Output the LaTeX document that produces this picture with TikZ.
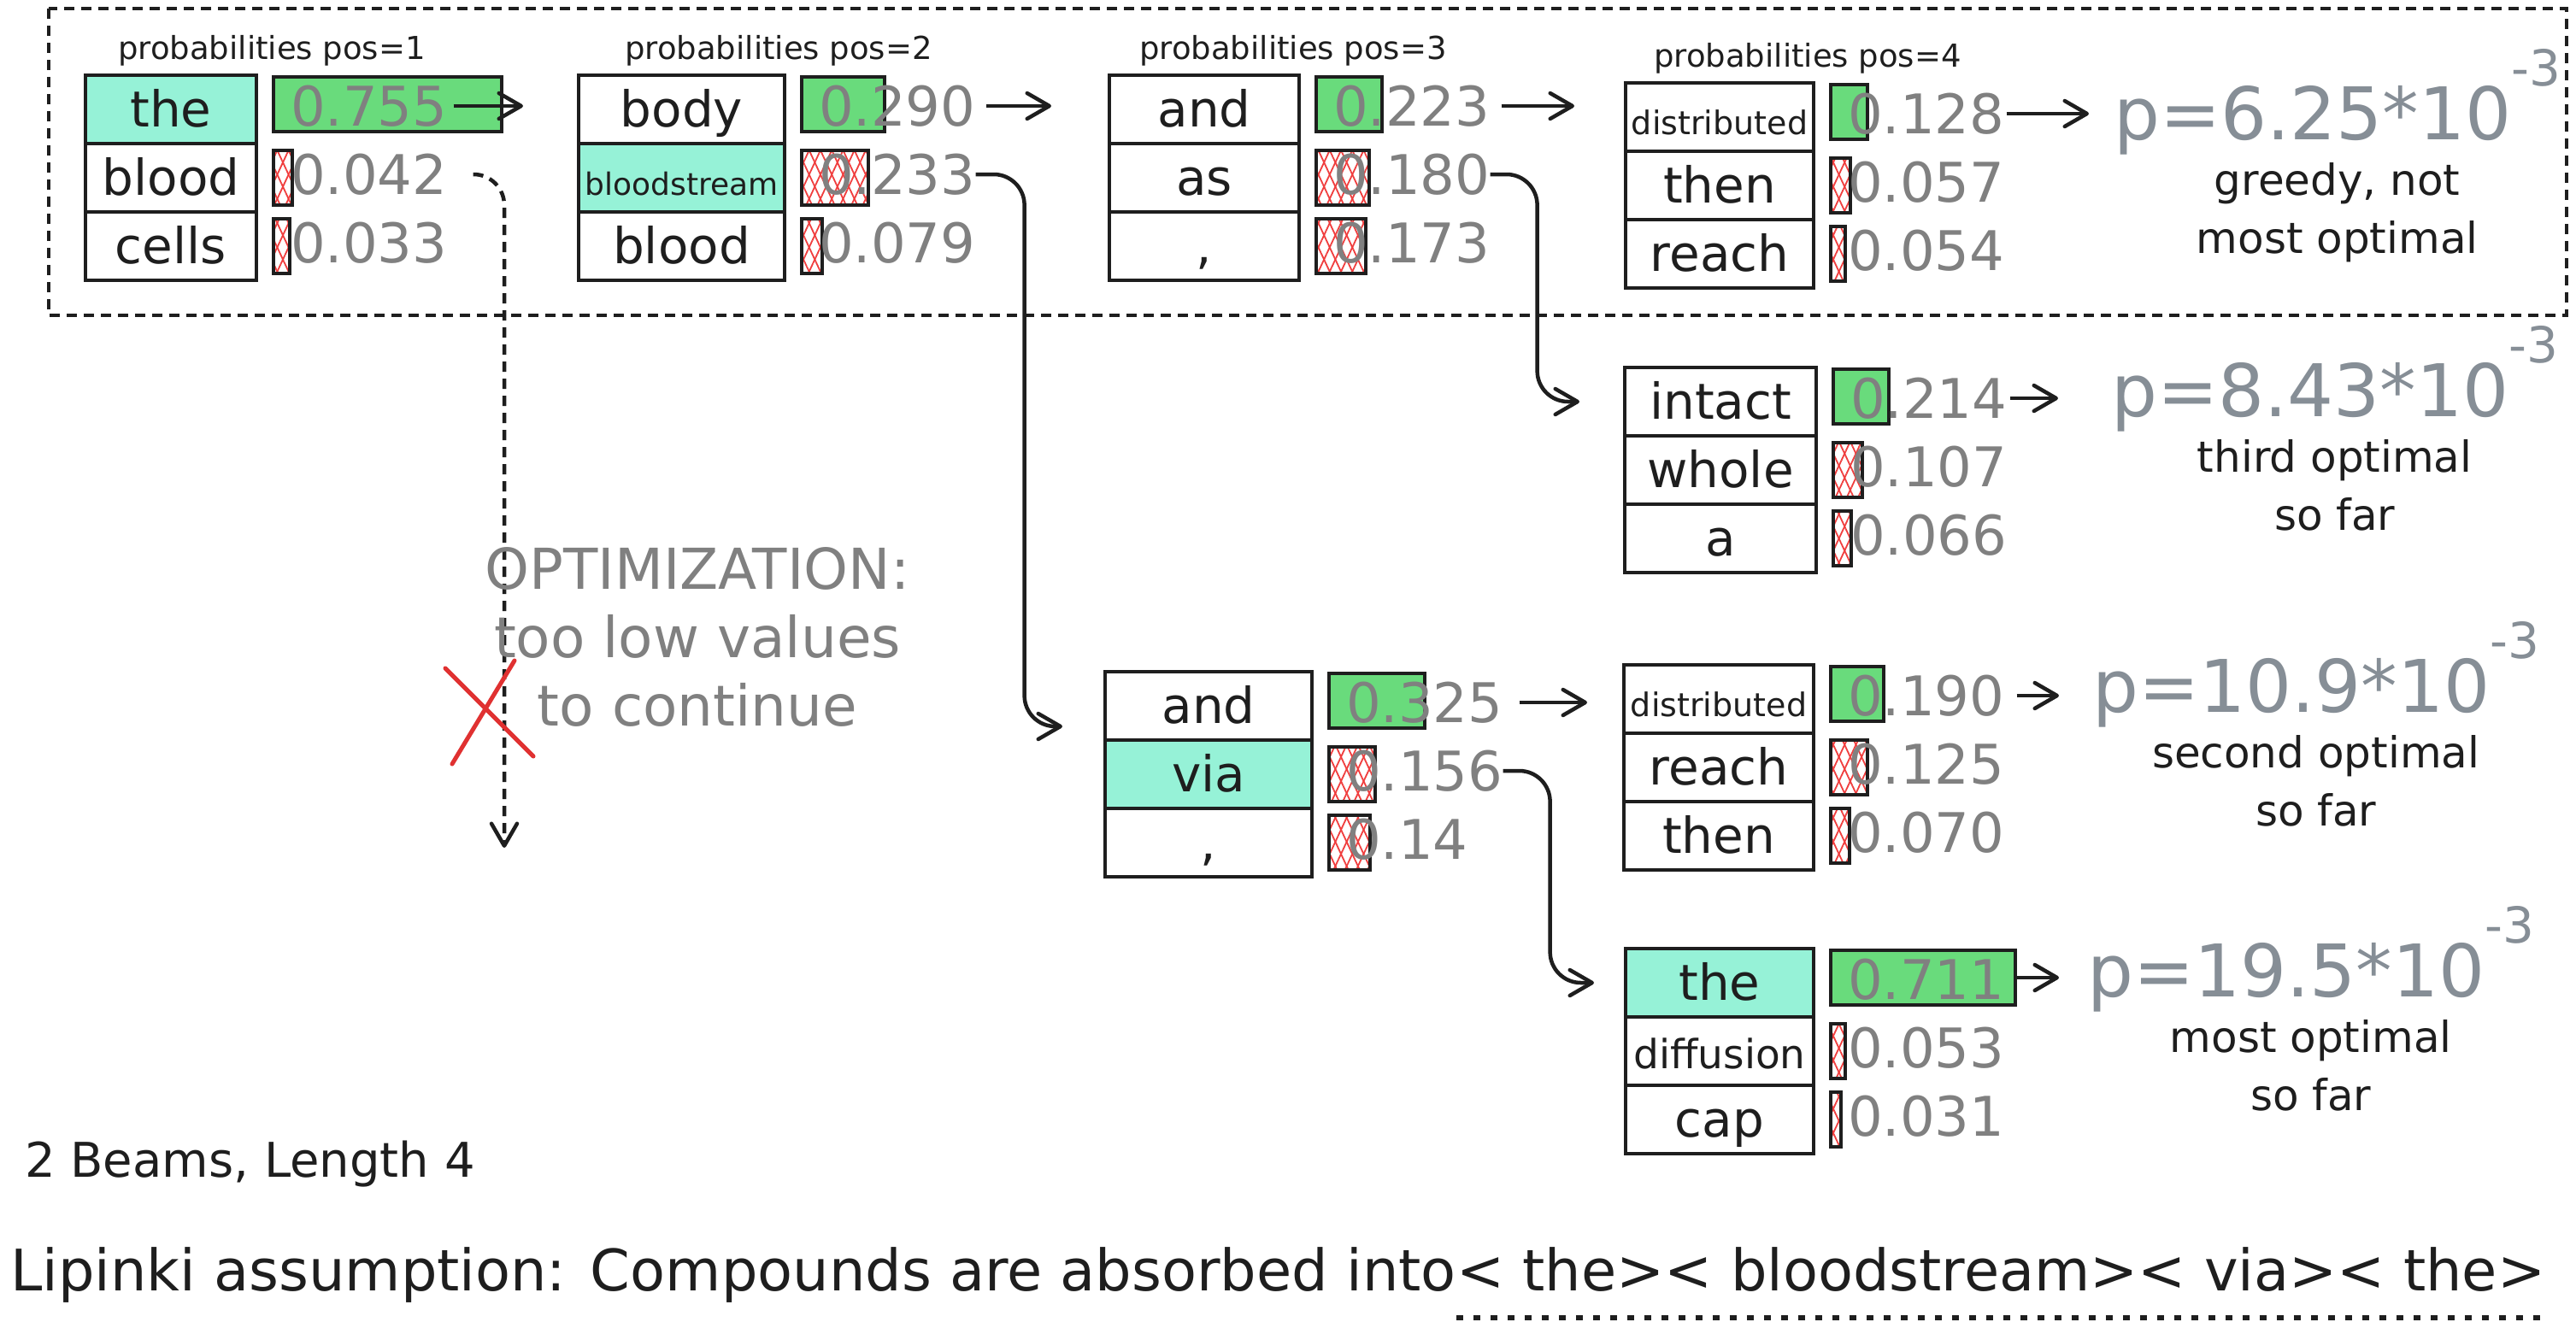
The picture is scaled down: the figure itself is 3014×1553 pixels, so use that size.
\documentclass[tikz,border=0pt]{standalone}
\usepackage{fontspec}
\setmainfont{DejaVu Sans}
\usepackage{xcolor}
\usetikzlibrary{arrows.meta, positioning, patterns.meta}

\definecolor{inkBlack}{HTML}{1E1E1E}
\definecolor{wordTeal}{HTML}{96F2D7}
\definecolor{barGreen}{HTML}{69DB7C}
\definecolor{hatchRed}{HTML}{F03E3E}
\definecolor{valGrey}{HTML}{808080}
\definecolor{pGrey}{HTML}{868E96}
\definecolor{crossRed}{HTML}{E03131}

\newcommand{\tenexp}{\raisebox{63pt}{\fontsize{58}{60}\selectfont -3}}

\tikzset{
  wordbox/.style={draw=inkBlack, line width=4.5pt, minimum width=#1, minimum height=80pt,
    inner sep=0pt, outer sep=0pt, text=inkBlack, text height=42pt, text depth=2pt,
    font=\fontsize{58}{60}\selectfont},
  barbox/.style={draw=inkBlack, line width=4pt, minimum width=#1, minimum height=64pt,
    inner sep=0pt, outer sep=0pt},
  hibar/.style={barbox=#1, fill=barGreen, yshift=6pt},
  lowbar/.style={barbox=#1,
    preaction={pattern={Lines[angle=65, distance=12pt, line width=1.8pt]}, pattern color=hatchRed},
    pattern={Lines[angle=-65, distance=12pt, line width=1.8pt]}, pattern color=hatchRed},
  valtext/.style={text=valGrey, inner sep=0pt, yshift=4pt, font=\fontsize{64}{66}\selectfont},
  problabel/.style={text=inkBlack, inner sep=0pt, font=\fontsize{37}{40}\selectfont},
  pvalue/.style={text=pGrey, inner sep=0pt, anchor=base west, font=\fontsize{85}{90}\selectfont},
  pnote/.style={align=center, text=inkBlack, inner sep=0pt, font=\fontsize{50}{68}\selectfont},
  sentence/.style={text=inkBlack, inner sep=0pt, anchor=base west, font=\fontsize{67}{70}\selectfont},
  nextarrow/.style={->, draw=inkBlack, line width=4.5pt},
  steparrow/.style={->, draw=inkBlack, line width=4.5pt, rounded corners=36pt},
  dashline/.style={draw=inkBlack, line width=4.5pt, dash pattern=on 12pt off 8pt},
  dotline/.style={draw=inkBlack, line width=6pt, dash pattern=on 8pt off 12pt}
}

\begin{document}
\begin{tikzpicture}[>={Straight Barb[length=26pt, width=30pt, round]}, x=1pt, y=1pt]

\fill[white] (0,0) rectangle (3014,-1553);
\useasboundingbox (0,0) rectangle (3014,-1553);

% Greedy frame
\draw[dashline] (57,-10) rectangle (3003,-369);

% Position 1
\node[wordbox=200pt, fill=wordTeal, anchor=north west] (w11) at (100,-88) {the};
\node[wordbox=200pt, below=0pt of w11] (w12) {blood};
\node[wordbox=200pt, below=0pt of w12] (w13) {cells};
\node[hibar=267pt, right=20pt of w11] (b11) {};
\node[lowbar=22pt, right=20pt of w12] (b12) {};
\node[lowbar=19pt, right=20pt of w13] (b13) {};
\node[valtext, right=40pt of w11] (v11) {0.755};
\node[valtext, right=40pt of w12] (v12) {0.042};
\node[valtext, right=40pt of w13] (v13) {0.033};
\node[problabel, above right=11pt and 38pt of w11.north west] (l1) {probabilities pos=1};

% Position 2
\node[wordbox=241pt, anchor=north west] (w21) at (677,-88) {body};
\node[wordbox=241pt, fill=wordTeal, font=\fontsize{36}{40}\selectfont, below=0pt of w21] (w22) {bloodstream};
\node[wordbox=241pt, below=0pt of w22] (w23) {blood};
\node[hibar=97pt, right=20pt of w21] (b21) {};
\node[lowbar=78pt, right=20pt of w22] (b22) {};
\node[lowbar=24pt, right=20pt of w23] (b23) {};
\node[valtext, right=40pt of w21] (v21) {0.290};
\node[valtext, right=40pt of w22] (v22) {0.233};
\node[valtext, right=40pt of w23] (v23) {0.079};
\node[problabel, above right=11pt and 54pt of w21.north west] (l2) {probabilities pos=2};

% Position 3
\node[wordbox=222pt, anchor=north west] (w31) at (1298,-88) {and};
\node[wordbox=222pt, below=0pt of w31] (w32) {as};
\node[wordbox=222pt, below=0pt of w32] (w33) {,};
\node[hibar=77pt, right=20pt of w31] (b31) {};
\node[lowbar=62pt, right=20pt of w32] (b32) {};
\node[lowbar=58pt, right=20pt of w33] (b33) {};
\node[valtext, right=40pt of w31] (v31) {0.223};
\node[valtext, right=40pt of w32] (v32) {0.180};
\node[valtext, right=40pt of w33] (v33) {0.173};
\node[problabel, above right=11pt and 35pt of w31.north west] (l3) {probabilities pos=3};

% Position 4, greedy beam
\node[wordbox=220pt, font=\fontsize{38}{40}\selectfont, anchor=north west] (w41) at (1902,-97) {distributed};
\node[wordbox=220pt, below=0pt of w41] (w42) {then};
\node[wordbox=220pt, below=0pt of w42] (w43) {reach};
\node[hibar=43pt, right=20pt of w41] (b41) {};
\node[lowbar=23pt, right=20pt of w42] (b42) {};
\node[lowbar=17pt, right=20pt of w43] (b43) {};
\node[valtext, right=40pt of w41] (v41) {0.128};
\node[valtext, right=40pt of w42] (v42) {0.057};
\node[valtext, right=40pt of w43] (v43) {0.054};
\node[problabel, above right=11pt and 33pt of w41.north west] (l4) {probabilities pos=4};

% Position 4, after "as"
\node[wordbox=224pt, anchor=north west] (w51) at (1901,-430) {intact};
\node[wordbox=224pt, below=0pt of w51] (w52) {whole};
\node[wordbox=224pt, below=0pt of w52] (w53) {a};
\node[hibar=65pt, right=20pt of w51] (b51) {};
\node[lowbar=34pt, right=20pt of w52] (b52) {};
\node[lowbar=21pt, right=20pt of w53] (b53) {};
\node[valtext, right=40pt of w51] (v51) {0.214};
\node[valtext, right=40pt of w52] (v52) {0.107};
\node[valtext, right=40pt of w53] (v53) {0.066};

% Position 3, after "bloodstream"
\node[wordbox=242pt, anchor=north west] (w61) at (1293,-786) {and};
\node[wordbox=242pt, fill=wordTeal, below=0pt of w61] (w62) {via};
\node[wordbox=242pt, below=0pt of w62] (w63) {,};
\node[hibar=112pt, right=20pt of w61] (b61) {};
\node[lowbar=54pt, right=20pt of w62] (b62) {};
\node[lowbar=48pt, right=20pt of w63] (b63) {};
\node[valtext, right=40pt of w61] (v61) {0.325};
\node[valtext, right=40pt of w62] (v62) {0.156};
\node[valtext, right=40pt of w63] (v63) {0.14};

% Position 4, after "and"
\node[wordbox=222pt, font=\fontsize{38}{40}\selectfont, anchor=north west] (w71) at (1900,-778) {distributed};
\node[wordbox=222pt, below=0pt of w71] (w72) {reach};
\node[wordbox=222pt, below=0pt of w72] (w73) {then};
\node[hibar=62pt, right=20pt of w71] (b71) {};
\node[lowbar=43pt, right=20pt of w72] (b72) {};
\node[lowbar=22pt, right=20pt of w73] (b73) {};
\node[valtext, right=40pt of w71] (v71) {0.190};
\node[valtext, right=40pt of w72] (v72) {0.125};
\node[valtext, right=40pt of w73] (v73) {0.070};

% Position 4, after "via"
\node[wordbox=220pt, fill=wordTeal, anchor=north west] (w81) at (1902,-1110) {the};
\node[wordbox=220pt, font=\fontsize{47}{50}\selectfont, below=0pt of w81] (w82) {diffusion};
\node[wordbox=220pt, below=0pt of w82] (w83) {cap};
\node[hibar=216pt, right=20pt of w81] (b81) {};
\node[lowbar=17pt, right=20pt of w82] (b82) {};
\node[lowbar=12pt, right=20pt of w83] (b83) {};
\node[valtext, right=40pt of w81] (v81) {0.711};
\node[valtext, right=40pt of w82] (v82) {0.053};
\node[valtext, right=40pt of w83] (v83) {0.031};

% Sequence probabilities
\node[pvalue] (p1) at (2473,-163) {p=6.25*10\tenexp};
\node[pvalue] (p2) at (2470,-487) {p=8.43*10\tenexp};
\node[pvalue] (p3) at (2448,-833) {p=10.9*10\tenexp};
\node[pvalue] (p4) at (2442,-1166) {p=19.5*10\tenexp};
\node[pnote, below=9pt of p1] (d1) {greedy, not\\most optimal};
\node[pnote, below=9pt of p2] (d2) {third optimal\\so far};
\node[pnote, below=9pt of p3] (d3) {second optimal\\so far};
\node[pnote, below=9pt of p4] (d4) {most optimal\\so far};

% Straight arrows
\draw[nextarrow, shorten <=7pt, shorten >=65pt] (v11.east) -- (v11.east -| w21.west);
\draw[nextarrow, shorten <=12pt, shorten >=68pt] (v21.east) -- (v21.east -| w31.west);
\draw[nextarrow, shorten <=13pt, shorten >=60pt] (v31.east) -- (v31.east -| w41.west);
\draw[nextarrow, shorten <=2pt, shorten >=29pt] (v41.east) -- (v41.east -| p1.west);
\draw[nextarrow, shorten <=3pt, shorten >=62pt] (v51.east) -- (v51.east -| p2.west);
\draw[nextarrow, shorten <=19pt, shorten >=43pt] (v61.east) -- (v61.east -| w71.west);
\draw[nextarrow, shorten <=14pt, shorten >=39pt] (v71.east) -- (v71.east -| p3.west);
\draw[nextarrow, shorten <=2pt, shorten >=33pt] (b81.east) -- (b81.east -| p4.west);

% Second beam branches
\draw[steparrow, shorten >=50pt] (v22.east) -- ++(57,0) |- ([yshift=-24pt]w61.west);
\draw[steparrow, shorten >=53pt] (v32.east) -- ++(55,0) |- (w51.west);
\draw[steparrow, shorten >=37pt] (v62.east) -- ++(55,0) |- (w81.west);

% Pruned branch
\coordinate (cut) at (590,-992);
\draw[dashline, ->, rounded corners=36pt, shorten <=30pt] (v12.east) -| (cut);
\draw[crossRed, line width=5pt, line cap=round] (521,-782) -- (624,-885) (602,-773) -- (529,-894);
\node[align=center, text=valGrey, font=\fontsize{66}{80}\selectfont] (optnote) at (816,-745)
  {OPTIMIZATION:\\too low values\\to continue};

% Captions
\node[sentence] (beams) at (29,-1377) {\fontsize{56}{60}\selectfont 2 Beams, Length 4};
\node[sentence] (lipinski) at (12,-1510) {Lipinki assumption: Compounds are absorbed into};
\node[sentence] (generated) at (lipinski.base east) {< the>< bloodstream>< via>< the>};
\draw[dotline] ([yshift=-32pt]generated.base west) -- ([yshift=-32pt]generated.base east);

\end{tikzpicture}
\end{document}
